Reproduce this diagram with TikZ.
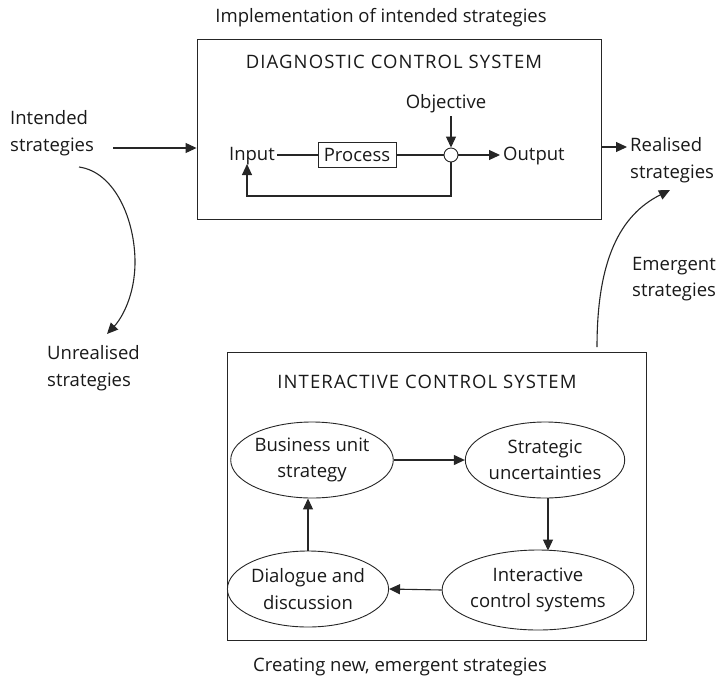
\documentclass[tikz,border=0pt]{standalone}
\usepackage{fontspec}
\setmainfont{Open Sans}
\usetikzlibrary{arrows.meta,shapes.geometric}
\begin{document}
\begin{tikzpicture}[x=1pt,y=-1pt,
  every node/.style={font=\fontsize{18.5}{26.5}\selectfont, inner sep=0pt, text=black!90},
  heading/.style={font=\fontsize{18.5}{26.5}\selectfont\addfontfeature{LetterSpace=6}},
  frame/.style={draw=black!85, line width=0.9pt},
  conn/.style={draw=black!85, line width=1.1pt},
  arr/.style={conn, -{Triangle[length=11pt,width=10pt]}},
  oval/.style={ellipse, draw=black!85, line width=0.9pt, inner sep=0pt, align=center}]
\useasboundingbox (0,0) rectangle (722,688);

% ---- diagnostic control system ----
\node (title1) at (381,18) {Implementation of intended strategies};
\node[frame, minimum width=404pt, minimum height=180pt] (dbox) at (399,129) {};
\node[heading] (dtitle) at (394,62) {DIAGNOSTIC CONTROL SYSTEM};
\node (obj) at (446,104) {Objective};
\node (input) at (252,156) {Input};
\node[frame, minimum width=78pt, minimum height=25pt] (proc) at (357,155) {Process};
\node[circle, frame, minimum size=14pt] (cmp) at (451,155) {};
\node[anchor=west] (output) at (503,156) {Output};

\draw[arr] (obj.south -| cmp.north) ++(0,3) -- (cmp.north);
\draw[conn] (proc.west) -- ([xshift=2pt]proc.west -| input.east);
\draw[conn] (proc.east) -- (cmp.west);
\draw[arr] (cmp.east) -- ([xshift=-3pt]cmp.east -| output.west);
\coordinate (fbcorner) at (451,196);
\draw[arr] (cmp.south) -- (fbcorner) -| ([xshift=-5pt,yshift=1pt]input.south);

% ---- strategies around the diagnostic box ----
\node[align=left, anchor=west] (intended) at (10,133) {Intended\\strategies};
\coordinate (inA) at (113,148);
\draw[arr] (inA) -- (inA -| dbox.west);

\node[align=left, anchor=west] (realised) at (630,160) {Realised\\strategies};
\coordinate (outA) at (627,147);
\draw[arr] (outA -| dbox.east) -- (outA);

\coordinate (unA) at (79,167);
\node[align=left, anchor=west] (unreal) at (47,368) {Unrealised\\strategies};
\draw[arr] (unA) .. controls (115,172) and (135,220) .. (135,262)
  .. controls (135,295) and (122,318) .. (107,334);

% ---- interactive control system ----
\node[frame, minimum width=419pt, minimum height=288pt] (ibox) at (436.5,496) {};
\node[heading] (ititle) at (427,382) {INTERACTIVE CONTROL SYSTEM};
\node[oval, minimum width=154pt, minimum height=76pt] (biz) at (312,460) {Business unit\\strategy};
\node[oval, minimum width=154pt, minimum height=76pt] (strat) at (545,460) {Strategic\\uncertainties};
\node[oval, minimum width=172pt, minimum height=80pt] (ictl) at (538,590) {Interactive\\control systems};
\node[oval, minimum width=154pt, minimum height=76pt] (dial) at (308,589) {Dialogue and\\discussion};

\draw[arr] (biz.east) -- (strat.west);
\draw[arr] ([xshift=3pt]strat.south) -- ([xshift=3pt,yshift=-1pt]strat.south |- ictl.north);
\draw[arr] (ictl.west) -- (dial.east);
\draw[arr] (dial.north) -- (dial.north |- biz.south);

\node (caption) at (400,667) {Creating new, emergent strategies};

% ---- emergent strategies ----
\coordinate (emA) at (597,347);
\draw[arr] (emA) .. controls (597,260) and (620,215) .. (670,190);
\node[align=left, anchor=west] (emerg) at (632,279) {Emergent\\strategies};
\end{tikzpicture}
\end{document}
